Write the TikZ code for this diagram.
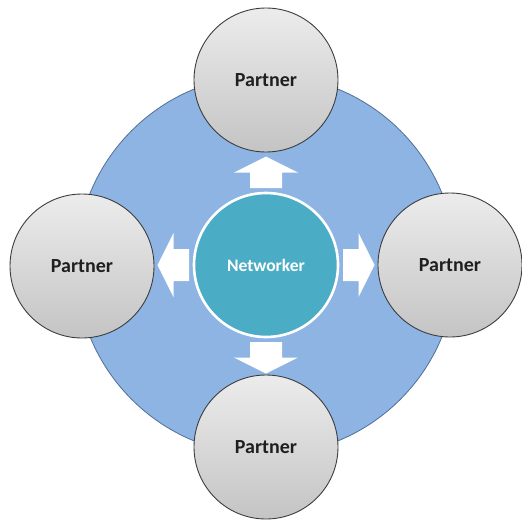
\documentclass[tikz,border=0pt]{standalone}
\usepackage{fontspec}
\setmainfont{Carlito}
\definecolor{bigblue}{RGB}{141,180,227}
\definecolor{bigblueline}{RGB}{80,110,150}
\definecolor{teal}{RGB}{75,172,198}
\definecolor{ptop}{RGB}{236,236,236}
\definecolor{pbot}{RGB}{196,196,196}
\definecolor{pline}{RGB}{60,60,60}
\begin{document}
\begin{tikzpicture}[x=1pt,y=-1pt,
  partner/.style={circle,draw=pline,line width=0.9pt,top color=ptop,bottom color=pbot,
    minimum size=144pt,inner sep=0pt,font=\bfseries\fontsize{20}{24}\selectfont,text=black!88},
  hub/.style={circle,draw=white,line width=2.6pt,fill=teal,minimum size=144pt,inner sep=0pt,
    font=\bfseries\fontsize{17.5}{21}\selectfont,text=white},
  ring/.style={circle,draw=bigblueline,line width=0.8pt,fill=bigblue,minimum size=380pt,inner sep=0pt},
  blockarrow/.style={fill=white}]
\useasboundingbox (0,0) rectangle (522,520);
\node[ring] (ring) at (266,265) {};
\foreach \a in {0,90,180,270}{
  \fill[blockarrow,shift={(266,265)},rotate=\a]
    (77,-16) -- (92.5,-16) -- (92.5,-32) -- (108.5,0) -- (92.5,32) -- (92.5,16) -- (77,16) -- cycle;
}
\node[hub] (hub) at (266,265) {Networker};
\node[partner] (top) at (266,80) {Partner};
\node[partner] (left) at (82,266) {Partner};
\node[partner] (right) at (450,265) {Partner};
\node[partner] (bottom) at (266,447) {Partner};
\end{tikzpicture}
\end{document}
